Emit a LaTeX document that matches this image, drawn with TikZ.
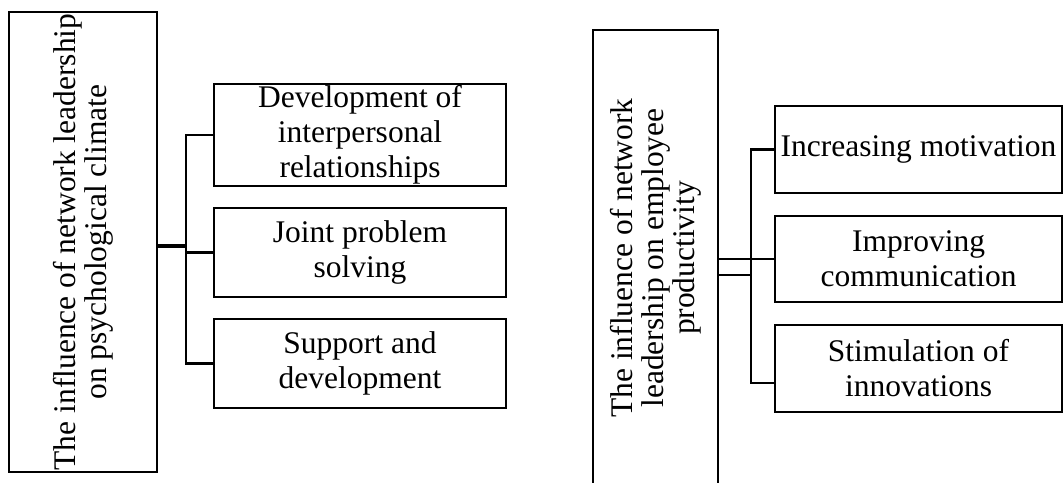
\documentclass[tikz,border=0pt]{standalone}
\usepackage{fontspec}
\setmainfont{Liberation Serif}

\tikzset{
  mainbox/.style={draw, line width=2.4pt, rotate=90, align=center, inner sep=0pt,
    font=\fontsize{31.5}{31}\selectfont},
  subbox/.style={draw, line width=2.4pt, align=center, inner sep=0pt,
    font=\fontsize{31.5}{35}\selectfont},
  link/.style={line width=2.2pt}
}

\begin{document}
\begin{tikzpicture}[x=1pt, y=-1pt]
      \useasboundingbox (0,0) rectangle (1063,482);
      % left group
      \node [mainbox, minimum width=460pt, minimum height=148pt] (psy) at (83,242)
        {The influence of network leadership\\on psychological climate};
      \node [subbox, minimum width=292pt, minimum height=102pt] (rel) at (360,135)
        {Development of\\interpersonal\\relationships};
      \node [subbox, minimum width=292pt, minimum height=89pt] (joi) at (360,252.5)
        {Joint problem\\solving};
      \node [subbox, minimum width=292pt, minimum height=89pt] (sup) at (360,363.5)
        {Support and\\development};
      \coordinate (psyfork) at (186,246);
      \draw [link, line width=3.2pt] (psyfork -| psy.south) -- (psyfork);
      \draw [link] (rel.west) -| (sup.west -| psyfork) -- (sup.west);
      \draw [link] (psyfork |- joi.west) -- (joi.west);
      % right group
      \node [mainbox, minimum width=456pt, minimum height=125pt] (prod) at (655.5,258)
        {The influence of network\\leadership on employee\\productivity};
      \node [subbox, minimum width=287pt, minimum height=87pt] (mot) at (918.5,149.5)
        {Increasing motivation};
      \node [subbox, minimum width=287pt, minimum height=86pt] (com) at (918.5,259)
        {Improving\\communication};
      \node [subbox, minimum width=287pt, minimum height=87pt] (inn) at (918.5,368.5)
        {Stimulation of\\innovations};
      \coordinate (prodfork) at (751,275);
      \coordinate (prodlow) at (751,383);
      \draw [link] (com.west -| prod.south) -- (com.west);
      \draw [link] (prodfork -| prod.south) -- (prodfork);
      \draw [link] (mot.west) -| (prodlow) -- (prodlow -| inn.west);
    \end{tikzpicture}
\end{document}
